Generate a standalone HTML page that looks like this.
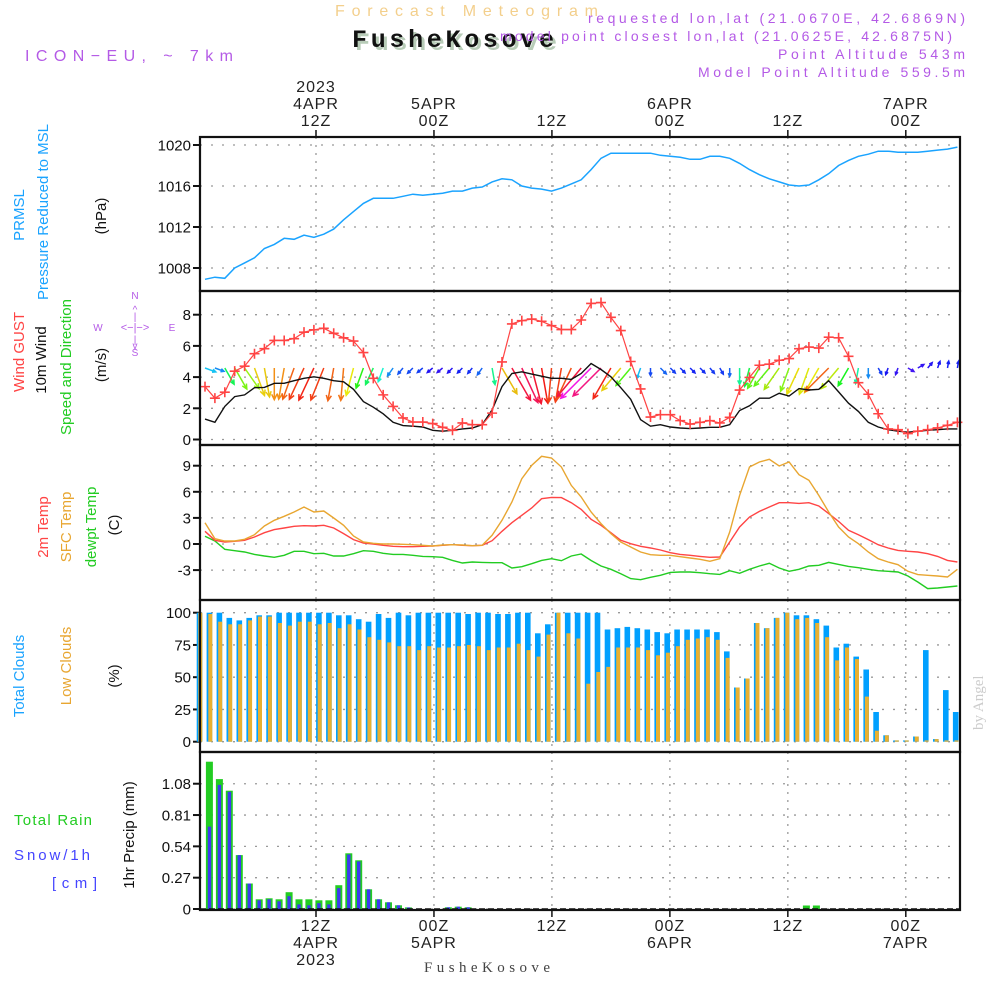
<!DOCTYPE html>
<html><head><meta charset="utf-8"><style>
html,body{margin:0;padding:0;background:#fff;}
svg{display:block;font-family:"Liberation Sans",sans-serif;}
</style></head><body>
<svg id="chart" xmlns="http://www.w3.org/2000/svg" width="1000" height="1000" viewBox="0 0 1000 1000">
<rect x="0" y="0" width="1000" height="1000" fill="#fff"/>
<!-- header -->
<text x="335" y="16" font-size="16" fill="#f3cf8c" textLength="263" lengthAdjust="spacing">Forecast Meteogram</text>
<text x="355" y="50" font-family="Liberation Mono, monospace" font-weight="bold" font-size="25" fill="#b8ccb8" textLength="202" lengthAdjust="spacing">FusheKosove</text>
<text x="352" y="47" font-family="Liberation Mono, monospace" font-weight="bold" font-size="25" fill="#111" textLength="202" lengthAdjust="spacing">FusheKosove</text>
<text x="25" y="61" font-size="16" fill="#b45ae6" textLength="208" lengthAdjust="spacing">ICON−EU, ~ 7km</text>
<text x="588" y="23" font-size="14" fill="#b45ae6" textLength="377" lengthAdjust="spacing">requested lon,lat (21.0670E, 42.6869N)</text>
<text x="500" y="41" font-size="14" fill="#b45ae6" textLength="452" lengthAdjust="spacing">model point closest lon,lat (21.0625E, 42.6875N)</text>
<text x="778" y="59" font-size="14" fill="#b45ae6" textLength="187" lengthAdjust="spacing">Point Altitude 543m</text>
<text x="698" y="77" font-size="14" fill="#b45ae6" textLength="267" lengthAdjust="spacing">Model Point Altitude 559.5m</text>
<text x="424" y="972" font-family="Liberation Serif, serif" font-size="15" fill="#444" textLength="126" lengthAdjust="spacing">FusheKosove</text>
<text transform="translate(983,730) rotate(-90)" font-family="Liberation Serif, serif" font-size="15" fill="#ccc">by Angel</text>

<!-- left labels -->
<g font-size="15">
<text transform="translate(24,215) rotate(-90)" text-anchor="middle" fill="#1aa3ff">PRMSL</text>
<text transform="translate(48,212) rotate(-90)" text-anchor="middle" fill="#1aa3ff">Pressure Reduced to MSL</text>
<text transform="translate(106,216) rotate(-90)" text-anchor="middle" fill="#111">(hPa)</text>
<text transform="translate(24,352) rotate(-90)" text-anchor="middle" fill="#ff4444">Wind GUST</text>
<text transform="translate(46,360) rotate(-90)" text-anchor="middle" fill="#111">10m Wind</text>
<text transform="translate(71,367) rotate(-90)" text-anchor="middle" fill="#22cc22">Speed and Direction</text>
<text transform="translate(106,365) rotate(-90)" text-anchor="middle" fill="#111">(m/s)</text>
<text transform="translate(48,527) rotate(-90)" text-anchor="middle" fill="#ff4444">2m Temp</text>
<text transform="translate(71,527) rotate(-90)" text-anchor="middle" fill="#e8a631">SFC Temp</text>
<text transform="translate(96,527) rotate(-90)" text-anchor="middle" fill="#22cc22">dewpt Temp</text>
<text transform="translate(119,525) rotate(-90)" text-anchor="middle" fill="#111">(C)</text>
<text transform="translate(24,676) rotate(-90)" text-anchor="middle" fill="#1aa3ff">Total Clouds</text>
<text transform="translate(71,666) rotate(-90)" text-anchor="middle" fill="#e8a631">Low Clouds</text>
<text transform="translate(119,676) rotate(-90)" text-anchor="middle" fill="#111">(%)</text>
<text x="14" y="825" fill="#22cc22" textLength="78" lengthAdjust="spacing">Total  Rain</text>
<text x="14" y="860" fill="#4444ff" textLength="76" lengthAdjust="spacing">Snow/1h</text>
<text x="52" y="888" fill="#4444ff" textLength="45" lengthAdjust="spacing">[cm]</text>
<text transform="translate(134,835) rotate(-90)" text-anchor="middle" fill="#111">1hr Precip (mm)</text>
</g>
<g fill="#b45ae6" font-size="10" stroke="none">
<text x="135" y="299" text-anchor="middle">N</text>
<text x="135" y="356" text-anchor="middle">S</text>
<text x="98" y="331" text-anchor="middle">W</text>
<text x="172" y="331" text-anchor="middle">E</text>
<text x="135" y="331" text-anchor="middle" font-size="11">&lt;−|−&gt;</text>
<text x="135" y="313" text-anchor="middle" font-size="10">^</text>
<text x="135" y="320" text-anchor="middle" font-size="10">|</text>
<text x="135" y="343" text-anchor="middle" font-size="10">|</text>
<text x="135" y="349" text-anchor="middle" font-size="10">v</text>
</g>
<g id="plot"></g>
</svg>
<script>
// ---- data ----
const tickHours = [12, 24, 36, 48, 60, 72];
const topTickLabels = [["2023","4APR","12Z"], ["5APR","00Z"], ["12Z"], ["6APR","00Z"], ["12Z"], ["7APR","00Z"]];
const bottomTickLabels = [["12Z","4APR","2023"], ["00Z","5APR"], ["12Z"], ["00Z","6APR"], ["12Z"], ["00Z","7APR"]];

const pressureTicks = [1020, 1016, 1012, 1008];
const pressure = [1006.9,1007.1,1007.0,1008.0,1008.5,1009.0,1009.9,1010.3,1010.9,1010.8,
 1011.2,1011.0,1011.3,1011.8,1012.7,1013.5,1014.3,1014.8,1014.8,1014.8,
 1015.0,1015.2,1015.1,1015.2,1015.3,1015.5,1015.5,1015.8,1015.9,1016.4,
 1016.7,1016.6,1016.0,1015.8,1015.7,1015.5,1015.8,1016.2,1016.6,1017.6,
 1018.7,1019.2,1019.2,1019.2,1019.2,1019.2,1019.0,1018.9,1018.8,1018.6,
 1018.6,1018.9,1018.9,1018.7,1018.2,1017.6,1017.1,1016.7,1016.4,1016.1,
 1016.0,1016.1,1016.6,1017.2,1018.0,1018.5,1018.9,1019.1,1019.4,1019.4,
 1019.3,1019.3,1019.3,1019.4,1019.5,1019.6,1019.8];

const windTicks = [8, 6, 4, 2, 0];
const gust = [3.39,2.65,3.03,4.38,4.7,5.5,5.82,6.35,6.35,6.46,
 6.88,7.03,7.13,6.81,6.52,6.31,5.57,3.92,2.86,2.12,
 1.38,1.12,1.12,1.02,0.78,0.59,1.06,0.95,0.95,1.69,
 4.97,7.41,7.62,7.72,7.58,7.3,7.05,7.05,7.66,8.72,
 8.78,7.83,6.98,5.0,3.24,1.44,1.59,1.59,1.21,0.99,
 1.1,1.21,1.06,1.42,3.17,3.98,4.76,4.83,5.08,5.19,
 5.82,5.93,5.86,6.56,6.52,5.33,3.64,2.9,1.65,0.68,
 0.63,0.38,0.53,0.63,0.74,0.91,1.1];
const wind = [1.31,1.1,2.12,2.75,2.86,3.32,3.34,3.6,3.6,3.77,
 3.92,4.02,3.92,3.77,3.7,3.22,2.43,2.07,1.65,1.1,
 0.89,0.85,0.8,0.59,0.53,0.59,0.68,0.74,0.95,1.9,
 3.39,4.23,4.34,4.19,4.06,3.92,3.92,3.85,4.23,4.87,
 4.49,4.02,3.32,2.58,1.27,0.85,0.95,0.8,0.74,0.7,
 0.74,0.78,0.78,0.95,1.86,2.16,2.65,2.65,2.96,2.79,
 3.26,3.17,3.22,3.77,3.05,2.33,1.8,1.1,0.8,0.63,
 0.53,0.47,0.53,0.59,0.63,0.68,0.68];
const windFrom = [290,290,330,330,325,340,350,0,10,20,
 25,25,22,10,5,15,20,25,20,35,
 40,45,50,50,50,45,45,40,35,350,
 330,330,335,345,350,5,10,25,40,45,
 45,30,40,40,20,0,315,315,315,315,
 315,320,330,0,0,15,30,40,35,20,
 25,20,30,45,40,30,10,0,330,20,
 20,300,240,220,200,190,190];

const tempTicks = [9, 6, 3, 0, -3];
const temp2m = [1.46,0.42,0.23,0.31,0.42,0.8,1.3,1.65,1.84,2.03,
 2.1,2.07,2.15,1.84,1.19,0.5,0.11,0,-0.15,-0.27,
 -0.31,-0.31,-0.27,-0.23,-0.15,-0.08,-0.15,-0.19,-0.15,0.38,
 1.46,2.45,3.3,4.14,5.21,5.36,5.33,4.75,3.98,2.84,
 2.15,1.3,0.42,0.04,-0.27,-0.46,-0.69,-1.0,-1.19,-1.3,
 -1.42,-1.53,-1.5,0.23,1.95,3.1,3.75,4.25,4.75,4.75,
 4.67,4.75,4.37,3.49,2.6,1.57,1.07,0.5,-0.08,-0.46,
 -0.73,-0.84,-0.92,-1.11,-1.42,-1.88,-2.07];
const tempSfc = [2.45,0.61,0.34,0.34,0.54,1.07,2.07,2.72,3.18,3.68,
 4.25,3.68,3.79,2.99,2.15,0.92,0.23,0.08,0,0,
 -0.04,-0.08,-0.15,-0.23,-0.11,-0.08,-0.11,-0.19,-0.15,1.0,
 2.72,4.83,7.51,9.04,10.08,9.89,8.85,6.74,5.4,3.68,
 2.34,1.19,0.23,-0.34,-0.92,-1.23,-1.3,-1.3,-1.46,-1.61,
 -1.76,-1.99,-1.69,1.38,5.59,8.85,9.43,9.73,8.97,9.43,
 7.97,7.32,5.59,3.68,1.95,0.8,0.04,-0.92,-1.69,-2.07,
 -2.38,-3.14,-3.52,-3.6,-3.68,-3.79,-2.91];
const dewpt = [0.88,0.34,-0.61,-0.77,-0.92,-1.19,-1.38,-1.53,-1.3,-0.84,
 -0.84,-1.11,-1.07,-1.38,-1.38,-1.11,-0.77,-0.84,-1.07,-1.19,
 -1.19,-1.3,-1.42,-1.46,-1.53,-1.88,-2.18,-2.07,-2.11,-2.15,
 -2.15,-2.76,-2.61,-2.26,-1.88,-1.69,-1.92,-1.38,-1.15,-1.9,
 -2.53,-2.91,-3.41,-3.98,-4.1,-3.83,-3.6,-3.26,-3.22,-3.22,
 -3.3,-3.41,-3.49,-3.07,-3.37,-2.91,-2.53,-2.22,-2.76,-3.14,
 -2.91,-2.53,-2.45,-2.11,-2.34,-2.57,-2.72,-2.91,-3.07,-3.14,
 -3.22,-3.68,-4.37,-5.13,-5.06,-4.94,-4.83];

const cloudTicks = [100, 75, 50, 25, 0];
const totalClouds = [100,100,100,96,94,96,98,98,100,100,
 100,100,100,100,98,98,95,93,99,96,
 100,98,100,100,100,100,100,99,100,100,
 99,99,100,100,84,91,100,100,100,100,
 100,87,88,89,88,87,85,84,87,87,
 87,87,85,70,42,49,92,88,96,100,
 98,98,95,90,73,76,66,56,23,5,
 1,1,4,71,2,40,23];
const lowClouds = [100,99,93,91,91,94,97,97,92,90,
 93,93,91,92,88,91,87,81,79,77,
 74,74,71,74,73,73,74,75,74,71,
 73,73,76,71,66,83,100,84,80,45,
 54,58,73,73,73,71,67,69,74,79,
 80,81,79,65,42,49,92,88,96,100,
 95,96,92,81,63,73,64,35,8.5,5,
 1,1,4,1,2,1,1];

const precipTicks = [1.08, 0.81, 0.54, 0.27, 0];
const precipTickLabels = ["1.08", "0.81", "0.54", "0.27", "0"];
const totalPrecip = [0,1.27,1.12,1.02,0.465,0.22,0.084,0.092,0.084,0.145,
 0.084,0.084,0.075,0.075,0.205,0.48,0.42,0.17,0.084,0.058,
 0.032,0.014,0,0,0,0.015,0.02,0.015,0,0,
 0,0,0,0,0,0,0,0,0,0,
 0,0,0,0,0,0,0,0,0,0,
 0,0,0,0,0,0,0,0,0,0,
 0,0.03,0.03,0,0,0,0,0,0,0,
 0,0,0,0,0,0,0];
const snowPrecip = [0,0.71,1.07,1.01,0.465,0.22,0.075,0.084,0.066,0.11,
 0.04,0.032,0.05,0.04,0.18,0.47,0.41,0.17,0.084,0.058,
 0.032,0.014,0,0,0,0.015,0.02,0.015,0,0,
 0,0,0,0,0,0,0,0,0,0,
 0,0,0,0,0,0,0,0,0,0,
 0,0,0,0,0,0,0,0,0,0,
 0,0,0,0,0,0,0,0,0,0,
 0,0,0,0,0,0,0];

// ---- scales ----
const X0 = 200, X1 = 960;
function xTime(h){ return 316 + (h - 12) * 9.83; }
function xLine(i){ return 205 + i * 9.9; }
function xBar(i){ return 199.5 + i * 9.95; }
function yP(v){ return 145 + (1020 - v) * 10.25; }
function yW(v){ return 439.5 - v * 15.6; }
function yT(v){ return 544 - v * 8.7; }
function yC(v){ return 741.7 - v * 1.29; }
function yR(v){ return 909 - v * 116; }
const panels = [
 {name:'pressure', top:137, bot:291, ticks:pressureTicks, y:yP, labels:pressureTicks.map(String)},
 {name:'wind', top:291, bot:445, ticks:windTicks, y:yW, labels:windTicks.map(String)},
 {name:'temperature', top:445, bot:600, ticks:tempTicks, y:yT, labels:tempTicks.map(String)},
 {name:'clouds', top:600, bot:752, ticks:cloudTicks, y:yC, labels:cloudTicks.map(String)},
 {name:'precip', top:752, bot:910, ticks:precipTicks, y:yR, labels:precipTickLabels}
];

const NS = 'http://www.w3.org/2000/svg';
const plot = document.getElementById('plot');
function mk(tag, attrs, parent){
  const e = document.createElementNS(NS, tag);
  for (const k in attrs) e.setAttribute(k, attrs[k]);
  (parent || plot).appendChild(e);
  return e;
}
function pathOf(arr, fy){
  return arr.map((v,i)=>(i?'L':'M')+xLine(i).toFixed(1)+' '+fy(v).toFixed(1)).join(' ');
}

// panels, grids, ticks
panels.forEach(p=>{
  const g = mk('g', {});
  
  
  p.g = g;
  tickHours.forEach(h=>{
    const l = mk('line', {x1:xTime(h), x2:xTime(h), y1:p.top, y2:p.bot, stroke:'#999', 'stroke-width':1.3, 'stroke-dasharray':'2,6'}, g);
    
    
  });
  p.ticks.forEach((t,k)=>{
    const y = p.y(t);
    const gl = mk('line', {x1:X0, x2:X1, y1:y, y2:y, stroke:'#999', 'stroke-width':1.3, 'stroke-dasharray':'2,9'}, g);
    
    
    mk('line', {x1:193, x2:X0, y1:y, y2:y, stroke:'#111', 'stroke-width':2}, g);
    const tx = mk('text', {x:191, y:y+5.5, 'text-anchor':'end', 'font-size':15, fill:'#111'}, g);
    tx.textContent = p.labels[k];
    
    
  });
});

// pressure
const pl = mk('path', {d:pathOf(pressure, yP), fill:'none', stroke:'#1aa3ff', 'stroke-width':1.5});



// wind
function windColor(s){
  let h = 285 - s * 70; if (h < 0) h += 360;
  return 'hsl(' + h.toFixed(0) + ',90%,' + (h>40&&h<80?'48%':'52%') + ')';
}
const arrowG = mk('g', {});


windFrom.forEach((d,i)=>{
  const s = wind[i];
  const to = (d + 180) * Math.PI / 180;
  const L = Math.max(7, 8.8 * s);
  const x0 = xLine(i), y0 = 368;
  const ux = Math.sin(to), uy = -Math.cos(to);
  const x1 = x0 + ux*L, y1 = y0 + uy*L;
  const c = windColor(s);
  const hl = Math.min(6, 2.5 + L*0.12);
  const a1 = to + Math.PI - 0.45, a2 = to + Math.PI + 0.45;
  const a = mk('path', {d:'M'+x0+' '+y0+' L'+x1.toFixed(1)+' '+y1.toFixed(1)+
    ' M'+(x1+Math.sin(a1)*hl).toFixed(1)+' '+(y1-Math.cos(a1)*hl).toFixed(1)+' L'+x1.toFixed(1)+' '+y1.toFixed(1)+
    ' L'+(x1+Math.sin(a2)*hl).toFixed(1)+' '+(y1-Math.cos(a2)*hl).toFixed(1),
    fill:'none', stroke:c, 'stroke-width':1.5}, arrowG);
  
  
});
const wl = mk('path', {d:pathOf(wind, yW), fill:'none', stroke:'#111', 'stroke-width':1.4});


const gl = mk('path', {d:pathOf(gust, yW), fill:'none', stroke:'#ff4444', 'stroke-width':1.2});


gust.forEach((v,i)=>{
  const x = xLine(i), y = yW(v);
  const m = mk('path', {d:'M'+(x-5)+' '+y+' H'+(x+5)+' M'+x+' '+(y-5)+' V'+(y+5), stroke:'#ff4444', 'stroke-width':1.6});
  
  
});

// temperature
[[dewpt,'#22cc22','dewpoint-line'],[temp2m,'#ff4444','temp-2m-line'],[tempSfc,'#e8a631','temp-sfc-line']].forEach(s=>{
  const l = mk('path', {d:pathOf(s[0], yT), fill:'none', stroke:s[1], 'stroke-width':1.4});
  
  
});

// clouds
totalClouds.forEach((v,i)=>{
  const x = xBar(i);
  const b = mk('rect', {x:(x-2.8).toFixed(1), y:yC(v).toFixed(1), width:5.6, height:(yC(0)-yC(v)).toFixed(1), fill:'#00a0ff'});
  
  
  const lv = lowClouds[i];
  const o = mk('rect', {x:(x-1.2).toFixed(1), y:yC(lv).toFixed(1), width:4, height:(yC(0)-yC(lv)).toFixed(1), fill:'#e8b030'});
  
  
});

// precip
totalPrecip.forEach((v,i)=>{
  if (v <= 0) return;
  const x = xBar(i);
  const b = mk('rect', {x:(x-3.5).toFixed(1), y:yR(v).toFixed(1), width:7, height:(yR(0)-yR(v)).toFixed(1), fill:'#22cc22'});
  
  
  const sv = snowPrecip[i];
  if (sv > 0){
    const s = mk('rect', {x:(x-1.7).toFixed(1), y:yR(sv).toFixed(1), width:3.4, height:(yR(0)-yR(sv)).toFixed(1), fill:'#3b3bf0'});
    
    
  }
});
mk('line', {x1:X0, x2:X1, y1:909, y2:909, stroke:'#111', 'stroke-width':1.5, 'stroke-dasharray':'6,3'});

// frames
panels.forEach(p=>{
  const r = mk('rect', {x:X0, y:p.top, width:X1-X0, height:p.bot-p.top, fill:'none', stroke:'#111', 'stroke-width':2.2});
  
  
});

// time axes
tickHours.forEach((h,k)=>{
  const x = xTime(h);
  mk('line', {x1:x, x2:x, y1:130, y2:137, stroke:'#111', 'stroke-width':1.5});
  mk('line', {x1:x, x2:x, y1:910, y2:917, stroke:'#111', 'stroke-width':1.5});
  const top = topTickLabels[k];
  top.forEach((s,j)=>{
    const t = mk('text', {x:x, y:126 - (top.length-1-j)*17, 'text-anchor':'middle', 'font-size':16, fill:'#222', 'letter-spacing':'1'});
    t.textContent = s;
    
    
  });
  bottomTickLabels[k].forEach((s,j)=>{
    const t = mk('text', {x:x, y:931 + j*17, 'text-anchor':'middle', 'font-size':16, fill:'#222', 'letter-spacing':'1'});
    t.textContent = s;
    
    
  });
});
</script>
</body></html>
